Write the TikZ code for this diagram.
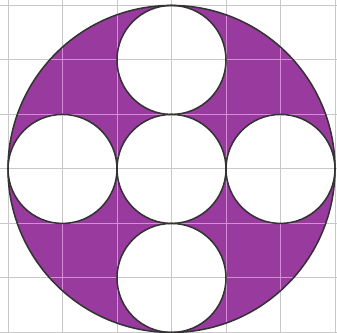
\documentclass[tikz,border=0pt]{standalone}
\definecolor{fillpurple}{RGB}{152,58,158}
\definecolor{gridgray}{RGB}{200,200,200}
\definecolor{gridpink}{RGB}{215,140,215}
\tikzset{
  gridline/.style={line width=0.5pt},
  outline/.style={draw=black!80, line width=0.8pt}
}
\begin{document}
\begin{tikzpicture}
\useasboundingbox (-3.147,-3.009) rectangle (3.037,3.10);
% plain grid
\draw[gridline, gridgray] (-3.147,-3.009) grid[step=1] (3.037,3.10);
% purple region
\fill[fillpurple, even odd rule] (0,0) circle (3)
  (0,0) circle (1) (2,0) circle (1) (-2,0) circle (1)
  (0,2) circle (1) (0,-2) circle (1);
% grid over purple, lighter
\begin{scope}[even odd rule]
  \clip (0,0) circle (3)
    (0,0) circle (1) (2,0) circle (1) (-2,0) circle (1)
    (0,2) circle (1) (0,-2) circle (1);
  \draw[gridline, gridpink] (-3.147,-3.009) grid[step=1] (3.037,3.10);
\end{scope}
% outlines
\draw[outline] (0,0) circle (3);
\foreach \p in {{(0,0)}, {(2,0)}, {(-2,0)}, {(0,2)}, {(0,-2)}}
  \draw[outline] \p circle (1);
\end{tikzpicture}
\end{document}
